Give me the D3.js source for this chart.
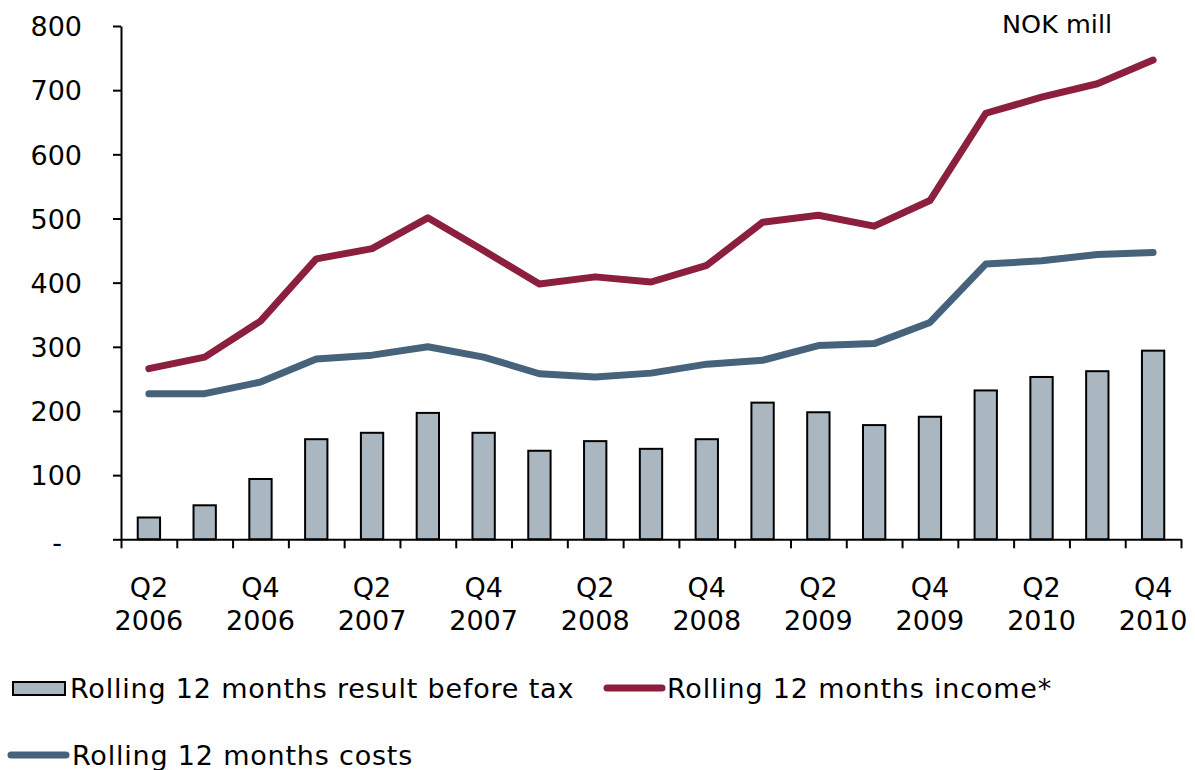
<!DOCTYPE html>
<html>
<head>
<meta charset="utf-8">
<script src="https://cdn.jsdelivr.net/npm/d3@7/dist/d3.min.js"></script>
<style>
    body { margin: 0; background: #ffffff; }
    svg text { font-family: "DejaVu Sans", Verdana, sans-serif; fill: #000000; }
</style>
</head>
<body>
<svg id="chart" width="1195" height="770"></svg>
<script>
// categories
var quarters = ['Q2 2006', 'Q3 2006', 'Q4 2006', 'Q1 2007', 'Q2 2007', 'Q3 2007', 'Q4 2007',
                'Q1 2008', 'Q2 2008', 'Q3 2008', 'Q4 2008', 'Q1 2009', 'Q2 2009', 'Q3 2009',
                'Q4 2009', 'Q1 2010', 'Q2 2010', 'Q3 2010', 'Q4 2010'];

// series values (NOK mill)
var result_before_tax = [34, 53, 94, 156, 166, 197, 166, 138, 153, 141, 156, 213, 198, 178, 191, 232, 253, 262, 294];
var income            = [266, 284, 340, 437, 453, 501, 450, 398, 409, 401, 427, 494, 505, 488, 528, 664, 689, 710, 747];
var costs             = [227, 227, 245, 281, 287, 300, 284, 258, 253, 259, 273, 279, 302, 305, 338, 429, 434, 444, 447];

// tick labels
var y_ticks = [0, 100, 200, 300, 400, 500, 600, 700, 800];
var unit_label = 'NOK mill';
var legend_labels = ['Rolling 12 months result before tax', 'Rolling 12 months income*', 'Rolling 12 months costs'];

// colors
var color_bar    = '#abb7c0';
var color_income = '#8c1f3e';
var color_costs  = '#47637c';

// get canvas
var svg = d3.select('#chart');

// plot frame
var plot_left = 121, plot_right = 1181, plot_top = 26, plot_bottom = 539.3;

// scales
var x = d3.scaleBand()
    .domain(quarters)
    .range([plot_left, plot_right])
    .paddingInner(0.6)
    .paddingOuter(0.3);

var x_edges = d3.scaleLinear()
    .domain([0, quarters.length])
    .range([plot_left, plot_right]);

var y = d3.scaleLinear()
    .domain([0, 800])
    .range([plot_bottom, plot_top]);

// center of a category
function cx(q) {
    return x(q) + x.bandwidth() / 2;
}

// bars
svg.append('g')
    .selectAll('rect')
    .data(result_before_tax)
    .enter()
    .append('rect')
    .attr('x', function(d, i) { return x(quarters[i]); })
    .attr('y', function(d) { return y(d); })
    .attr('width', x.bandwidth())
    .attr('height', function(d) { return y(0) - y(d); })
    .attr('fill', color_bar)
    .attr('stroke', '#000000')
    .attr('stroke-width', 2);

// y axis
var y_axis = svg.append('g')
    .attr('transform', 'translate(' + plot_left + ',0)')
    .call(d3.axisLeft(y)
        .tickValues(y_ticks)
        .tickSize(8)
        .tickSizeOuter(0)
        .tickPadding(31)
        .tickFormat(function(d) { return d === 0 ? '-' : d; }));

y_axis.selectAll('text')
    .attr('font-size', 27)
    .attr('font-family', '"DejaVu Sans", Verdana, sans-serif')
    .attr('dy', '0.36em');

// zero label sits further left
y_axis.selectAll('.tick')
    .filter(function(d) { return d === 0; })
    .select('text')
    .attr('x', -59)
    .attr('dy', '0.45em');

// x axis (ticks on category edges)
svg.append('g')
    .attr('transform', 'translate(0,' + plot_bottom + ')')
    .call(d3.axisBottom(x_edges)
        .tickValues(d3.range(quarters.length + 1))
        .tickSize(9)
        .tickSizeOuter(0)
        .tickFormat(''));

svg.selectAll('.domain, .tick line')
    .attr('stroke', '#000000')
    .attr('stroke-width', 2);

// x labels, every second quarter
var x_labels = svg.append('g')
    .selectAll('text')
    .data(quarters.filter(function(d, i) { return i % 2 === 0; }))
    .enter()
    .append('text')
    .attr('text-anchor', 'middle')
    .attr('font-size', 27);

x_labels.append('tspan')
    .attr('x', function(d) { return cx(d); })
    .attr('y', 597)
    .text(function(d) { return d.split(' ')[0]; });

x_labels.append('tspan')
    .attr('x', function(d) { return cx(d); })
    .attr('y', 630)
    .text(function(d) { return d.split(' ')[1]; });

// lines
var line = d3.line()
    .x(function(d, i) { return cx(quarters[i]); })
    .y(function(d) { return y(d); });

[[costs, color_costs], [income, color_income]].forEach(function(s) {
    svg.append('path')
        .datum(s[0])
        .attr('d', line)
        .attr('fill', 'none')
        .attr('stroke', s[1])
        .attr('stroke-width', 7)
        .attr('stroke-linejoin', 'round')
        .attr('stroke-linecap', 'round');
});

// unit label
svg.append('text')
    .attr('x', 1002)
    .attr('y', 33)
    .attr('font-size', 25.5)
    .text(unit_label);

// legend
var legend = svg.append('g');

legend.append('rect')
    .attr('x', 13)
    .attr('y', 682)
    .attr('width', 52)
    .attr('height', 13)
    .attr('fill', color_bar)
    .attr('stroke', '#000000')
    .attr('stroke-width', 2);

legend.append('line')
    .attr('x1', 607).attr('x2', 662)
    .attr('y1', 688).attr('y2', 688)
    .attr('stroke', color_income)
    .attr('stroke-width', 7)
    .attr('stroke-linecap', 'round');

legend.append('line')
    .attr('x1', 11).attr('x2', 66)
    .attr('y1', 755).attr('y2', 755)
    .attr('stroke', color_costs)
    .attr('stroke-width', 7)
    .attr('stroke-linecap', 'round');

// legend texts
var legend_pos = [[70, 698], [667, 698], [72, 765]];
legend.selectAll('text')
    .data(legend_labels)
    .enter()
    .append('text')
    .attr('x', function(d, i) { return legend_pos[i][0]; })
    .attr('y', function(d, i) { return legend_pos[i][1]; })
    .attr('font-size', 27)
    .attr('letter-spacing', 0.8)
    .text(function(d) { return d; });
</script>
</body>
</html>
